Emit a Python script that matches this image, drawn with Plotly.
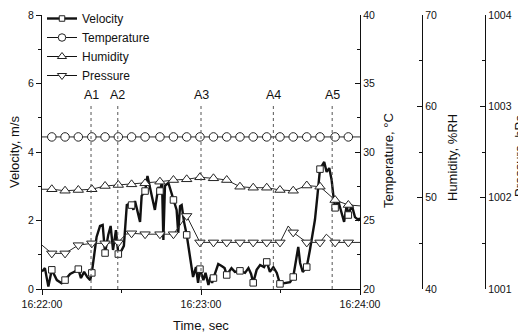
import plotly.graph_objects as go

# ---------------- data ----------------
# sampling times (s after 16:22:00) at which the instrument markers are drawn
marker_t = [3.7, 8.7, 13.7, 18.8, 23.8, 28.8, 33.8, 38.9, 44.5, 49.6, 54.6, 59.6,
            64.7, 69.7, 74.7, 79.7, 84.8, 89.8, 94.8, 99.9, 104.9, 110.6, 115.6]

velocity_t = [0.0, 1.1, 2.4, 3.7, 5.6, 7.4, 8.7, 10.6, 12.4, 13.7, 14.7, 15.9, 17.1, 18.2,
              18.8, 19.4, 20.6, 21.9, 22.9, 23.8, 25.0, 25.9, 26.8, 27.9, 28.8, 30.1, 30.9,
              32.0, 33.2, 33.8, 34.5, 35.1, 36.0, 37.0, 37.6, 38.9, 39.8, 40.8, 41.5, 42.6,
              43.9, 44.5, 45.3, 45.8, 46.4, 47.7, 49.6, 50.8, 51.4, 52.1, 52.7, 53.6, 54.6,
              55.9, 57.0, 58.1, 58.9, 59.6, 60.9, 61.7, 62.8, 63.6, 64.2, 64.7, 66.5, 67.8,
              68.9, 69.7, 71.5, 72.8, 74.7, 76.6, 77.9, 78.9, 79.7, 81.0, 82.3, 83.8, 84.8,
              86.0, 87.3, 88.6, 89.8, 93.6, 94.8, 96.7, 97.4, 98.4, 99.9, 101.1, 103.0, 103.9,
              104.9, 106.5, 107.4, 108.4, 109.3, 110.0, 110.6, 111.8, 113.1, 114.0, 115.0,
              115.6, 116.9, 118.1, 119.4, 120.0]
velocity_v = [0.51, 0.61, 0.07, 0.56, 0.26, 0.17, 0.26, 0.44, 0.51, 0.58, 0.32, 0.50, 0.35, 0.26,
              0.47, 0.85, 1.52, 1.84, 1.87, 1.05, 1.58, 1.84, 1.14, 1.72, 1.02, 1.14, 1.26,
              2.45, 2.50, 2.45, 2.31, 2.57, 2.25, 1.96, 2.72, 2.86, 3.30, 2.89, 2.69, 2.31,
              2.98, 2.86, 3.12, 1.43, 3.01, 3.10, 2.60, 2.31, 1.64, 2.42, 2.45, 1.96, 1.58,
              0.91, 0.35, 0.64, 0.18, 0.58, 0.26, 0.47, 0.12, 0.35, 0.18, 0.32, 0.73, 0.67,
              0.61, 0.41, 0.61, 0.50, 0.53, 0.47, 0.61, 0.44, 0.18, 0.56, 0.70, 0.64, 0.79,
              0.50, 0.64, 0.47, 0.15, 0.20, 0.35, 1.23, 0.76, 0.50, 0.64, 1.14, 2.02, 2.70,
              3.50, 3.71, 3.42, 3.53, 3.18, 2.69, 2.37, 2.57, 2.25, 1.96, 2.45,
              2.16, 2.45, 2.10, 2.02, 2.07]

temperature_t = [0.0] + marker_t + [120.0]
temperature_v = [31.1] * 25

humidity_t = [0.0] + marker_t + [120.0]
humidity_v = [50.92, 50.92, 50.76, 50.84, 50.92, 51.28, 51.39, 51.46, 51.57, 51.75, 51.93, 52.01,
              52.23, 52.12, 51.93, 51.20, 51.09, 51.09, 50.84, 50.76, 51.33, 51.20, 49.74, 49.20,
              49.10]

pressure_t = [0.0, 3.7, 8.7, 13.7, 18.8, 23.8, 28.8, 31.6, 33.8, 38.9, 44.5, 49.6, 54.6, 59.6,
              64.7, 69.7, 74.7, 79.7, 84.8, 89.8, 92.9, 94.8, 99.9, 104.9, 107.3, 110.6, 115.6,
              120.0]
pressure_v = [1001.48, 1001.39, 1001.39, 1001.48, 1001.50, 1001.50, 1001.51, 1001.60, 1001.61,
              1001.60, 1001.60, 1001.60, 1001.80, 1001.51, 1001.51, 1001.51, 1001.51, 1001.51,
              1001.51, 1001.51, 1001.69, 1001.62, 1001.51, 1001.51, 1001.60, 1001.51, 1001.51,
              1001.51]

event_t = [18.5, 28.6, 60.0, 87.3, 109.5]
event_labels = ["A1", "A2", "A3", "A4", "A5"]

x_tickvals = [0, 60, 120]
x_ticktext = ["16:22:00", "16:23:00", "16:24:00"]

# ---------------- styling ----------------
FONT = "Liberation Sans, Arial, sans-serif"
INK = "#111111"
OFF = 8  # page body margin of the browser
W, H = 526 - OFF, 336 - OFF
# plot area in window pixels: x 42..360, y 15..289
L_MARGIN, T_MARGIN = 42 - OFF, 15 - OFF
B_MARGIN = H - (289 - OFF)
R_MARGIN = 6
PW = W - L_MARGIN - R_MARGIN
PH = H - T_MARGIN - B_MARGIN


def px_x(px):  # window pixel -> paper fraction
    return (px - 42) / PW


def px_y(py):
    return (289 - py) / PH


def marked(ts, vs):
    xs, ys = [], []
    for m in marker_t:
        i = min(range(len(ts)), key=lambda k: abs(ts[k] - m))
        xs.append(ts[i])
        ys.append(vs[i])
    return xs, ys


fig = go.Figure()

series = [
    ("Velocity", velocity_t, velocity_v, "y", "square", 6.5, 2.4),
    ("Temperature", temperature_t, temperature_v, "y2", "circle", 8.5, 1.0),
    ("Humidity", humidity_t, humidity_v, "y3", "triangle-up", 9, 1.0),
    ("Pressure", pressure_t, pressure_v, "y4", "triangle-down", 9, 1.0),
]

for name, ts, vs, ax, sym, size, lw in series:
    fig.add_trace(go.Scatter(x=ts, y=vs, yaxis=ax, mode="lines", showlegend=False,
                             line=dict(color=INK if name == "Velocity" else "#2a2a2a", width=lw),
                             hoverinfo="skip"))
for name, ts, vs, ax, sym, size, lw in series:
    mx, my = marked(ts, vs)
    fig.add_trace(go.Scatter(x=mx, y=my, yaxis=ax, mode="markers", showlegend=False,
                             marker=dict(symbol=sym, size=size, color="white",
                                         line=dict(color="#222222", width=1)),
                             cliponaxis=False))
for name, ts, vs, ax, sym, size, lw in series:
    fig.add_trace(go.Scatter(x=[None], y=[None], mode="lines+markers", name=name,
                             line=dict(color=INK, width=lw),
                             marker=dict(symbol=sym, size=size - 1, color="white",
                                         line=dict(color="#222222", width=1))))

for t, lab in zip(event_t, event_labels):
    fig.add_shape(type="line", xref="x", yref="y", x0=t, x1=t, y0=0, y1=5.43,
                  line=dict(color="#555555", width=1, dash="dot"))
    fig.add_annotation(x=t, y=5.66, xref="x", yref="y", text=lab, showarrow=False,
                       yanchor="middle", font=dict(size=12.5, color=INK, family=FONT))

tick_font = dict(size=10.5, color=INK, family=FONT)
common = dict(showgrid=False, zeroline=False, showline=True, linecolor=INK, linewidth=1.2,
              tickfont=tick_font, tickcolor=INK, ticklen=5, automargin=False)

fig.update_layout(
    width=W, height=H,
    margin=dict(l=L_MARGIN, r=R_MARGIN, t=T_MARGIN, b=B_MARGIN, autoexpand=False),
    paper_bgcolor="white", plot_bgcolor="white",
    font=dict(family=FONT, color=INK),
    xaxis=dict(domain=[0, px_x(360)], range=[0, 120], tickmode="array",
               tickvals=x_tickvals, ticktext=x_ticktext, ticks="outside",
               minor=dict(tickmode="array", tickvals=[30, 90], ticks="outside", ticklen=3,
                          tickcolor=INK), anchor="y", **common),
    yaxis=dict(range=[0, 8], dtick=2, ticks="outside",
               minor=dict(dtick=1, ticks="outside", ticklen=3, tickcolor=INK), **common),
    yaxis2=dict(overlaying="y", side="right", anchor="x", range=[20, 40], dtick=5,
                ticks="inside", minor=dict(dtick=2.5, ticks="inside", ticklen=3, tickcolor=INK),
                **common),
    yaxis3=dict(overlaying="y", side="right", anchor="free", position=px_x(422), range=[40, 70],
                dtick=10, ticks="inside",
                minor=dict(dtick=5, ticks="inside", ticklen=3, tickcolor=INK), **common),
    yaxis4=dict(overlaying="y", side="right", anchor="free", position=px_x(485),
                range=[1001, 1004], dtick=1, ticks="inside",
                minor=dict(dtick=0.5, ticks="inside", ticklen=3, tickcolor=INK), **common),
    legend=dict(x=px_x(42), y=px_y(4), xanchor="left", yanchor="top", bgcolor="rgba(0,0,0,0)",
                font=dict(size=12, color=INK, family=FONT), itemwidth=30, tracegroupgap=0),
    showlegend=True,
)

titles = [
    ("Velocity, m/s", 14, px_y(152)),
    ("Temperature, °C", 388, px_y(161)),
    ("Humidity, %RH", 452, px_y(158)),
    ("Pressure, hPa", 519, px_y(156)),
]
for text, xp, yp in titles:
    fig.add_annotation(x=px_x(xp), y=yp, xref="paper", yref="paper", text=text,
                       textangle=-90, showarrow=False, xanchor="center", yanchor="middle",
                       font=dict(size=13, color=INK, family=FONT))
fig.add_annotation(x=px_x(201), y=px_y(325), xref="paper", yref="paper", text="Time, sec",
                   showarrow=False, xanchor="center", yanchor="middle",
                   font=dict(size=13, color=INK, family=FONT))

fig.write_html("out.html")
